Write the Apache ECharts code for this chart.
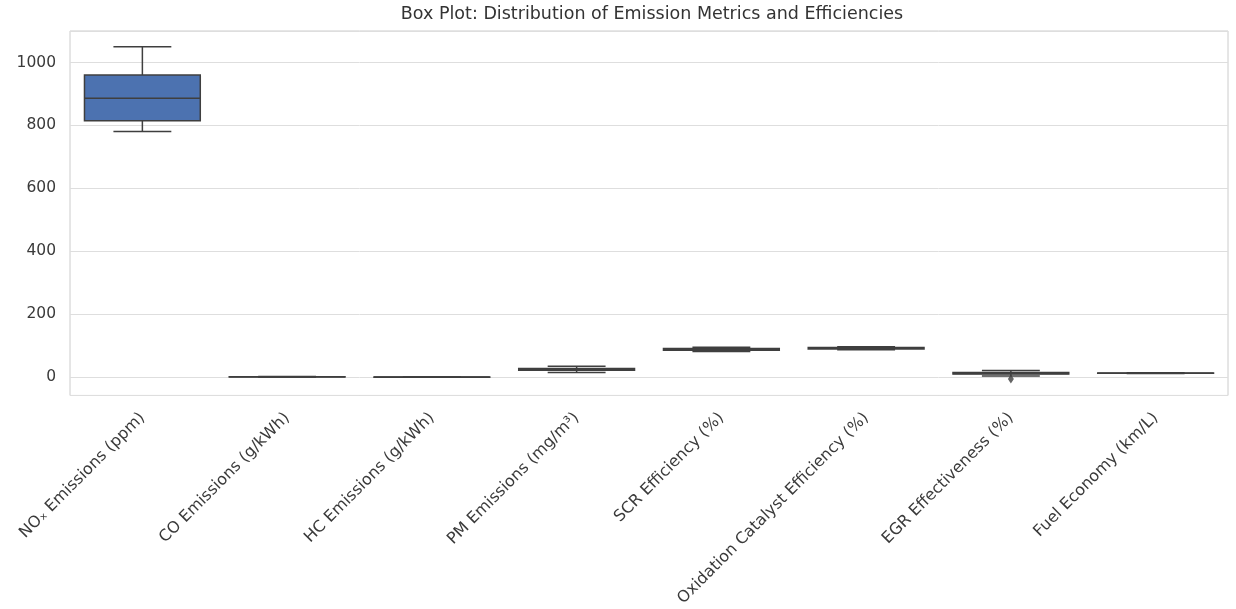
<!DOCTYPE html>
<html>
<head>
<meta charset="utf-8">
<title>Emission Metrics Box Plot</title>
<script src="https://cdn.jsdelivr.net/npm/echarts@6/dist/echarts.min.js"></script>
<style>
  html, body { margin: 0; padding: 0; background: #ffffff; }
  #chart { width: 1236px; height: 609px; }
</style>
</head>
<body>
<div id="chart"></div>
<script>
// Metric names shown on the category axis
const categories = [
  'NOₓ Emissions (ppm)',
  'CO Emissions (g/kWh)',
  'HC Emissions (g/kWh)',
  'PM Emissions (mg/m³)',
  'SCR Efficiency (%)',
  'Oxidation Catalyst Efficiency (%)',
  'EGR Effectiveness (%)',
  'Fuel Economy (km/L)'
];

// Five-number summaries per metric: [lower whisker, Q1, median, Q3, upper whisker]
const noxStats       = [781, 815, 886, 960, 1050];
const coStats        = [0.3, 0.8, 1.1, 1.5, 2.2];
const hcStats        = [0.05, 0.15, 0.25, 0.35, 0.5];
const pmStats        = [15, 22, 25, 28, 35];
const scrStats       = [82, 86, 89, 91, 95];
const oxidationStats = [87, 90, 92, 94, 97];
const egrStats       = [4, 10, 12, 15, 21];
const fuelStats      = [11.5, 12.2, 12.6, 13.0, 13.8];

// Points beyond the whiskers: [category index, value]
const outliers = [[6, -6]];

// Value axis range
const yMin = -58;
const yMax = 1100;

const summaries = [noxStats, coStats, hcStats, pmStats, scrStats, oxidationStats, egrStats, fuelStats];
const boxData = summaries.map((s, i) => [i].concat(s));

const FILL = '#4c72b0';
const LINE = '#3f3f3f';
const FONT = 'DejaVu Sans';

function renderBox(params, api) {
  const idx = api.value(0);
  const band = api.size([1, 0])[0];
  const w = band * 0.8;
  const cx = api.coord([idx, 0])[0];
  const yLo = api.coord([idx, api.value(1)])[1];
  const yQ1 = api.coord([idx, api.value(2)])[1];
  const yMed = api.coord([idx, api.value(3)])[1];
  const yQ3 = api.coord([idx, api.value(4)])[1];
  const yHi = api.coord([idx, api.value(5)])[1];
  const lineStyle = { stroke: LINE, lineWidth: 1.5, fill: null };
  return {
    type: 'group',
    children: [
      // whiskers
      { type: 'line', shape: { x1: cx, y1: yQ3, x2: cx, y2: yHi }, style: lineStyle },
      { type: 'line', shape: { x1: cx, y1: yQ1, x2: cx, y2: yLo }, style: lineStyle },
      // caps (half the box width)
      { type: 'line', shape: { x1: cx - w / 4, y1: yHi, x2: cx + w / 4, y2: yHi }, style: lineStyle },
      { type: 'line', shape: { x1: cx - w / 4, y1: yLo, x2: cx + w / 4, y2: yLo }, style: lineStyle },
      // box
      { type: 'rect', shape: { x: cx - w / 2, y: yQ3, width: w, height: yQ1 - yQ3 },
        style: { fill: FILL, stroke: LINE, lineWidth: 1.5 } },
      // median
      { type: 'line', shape: { x1: cx - w / 2, y1: yMed, x2: cx + w / 2, y2: yMed }, style: lineStyle }
    ]
  };
}

const chart = echarts.init(document.getElementById('chart'), null, { renderer: 'canvas' });

chart.setOption({
  backgroundColor: '#ffffff',
  animation: false,
  textStyle: { fontFamily: FONT },
  title: {
    text: 'Box Plot: Distribution of Emission Metrics and Efficiencies',
    left: 652,
    top: 5,
    padding: 0,
    textAlign: 'center',
    textStyle: { fontFamily: FONT, fontSize: 17.5, fontWeight: 'normal', color: '#333333' }
  },
  grid: {
    left: 70,
    right: 8,
    top: 31,
    bottom: 213,
    show: true,
    borderColor: '#cccccc',
    borderWidth: 1,
    backgroundColor: 'transparent'
  },
  xAxis: {
    type: 'category',
    data: categories,
    boundaryGap: true,
    axisLine: { show: false },
    axisTick: { show: false },
    splitLine: { show: false },
    axisLabel: {
      rotate: 45,
      margin: 20,
      interval: 0,
      fontFamily: FONT,
      fontSize: 16,
      color: '#3a3a3a'
    }
  },
  yAxis: {
    type: 'value',
    min: yMin,
    max: yMax,
    splitNumber: 5,
    axisLine: { show: false },
    axisTick: { show: false },
    splitLine: { show: true, lineStyle: { color: '#dedede', width: 1 } },
    axisLabel: {
      showMinLabel: false,
      showMaxLabel: false,
      margin: 14,
      fontFamily: FONT,
      fontSize: 15.5,
      color: '#3a3a3a',
      formatter: (v) => String(v)
    }
  },
  series: [
    {
      type: 'custom',
      renderItem: renderBox,
      data: boxData,
      encode: { x: 0, y: [1, 2, 3, 4, 5] },
      z: 3
    },
    {
      type: 'scatter',
      data: outliers,
      symbol: 'diamond',
      symbolSize: [6, 9],
      itemStyle: { color: LINE },
      z: 2
    }
  ]
});
</script>
</body>
</html>
